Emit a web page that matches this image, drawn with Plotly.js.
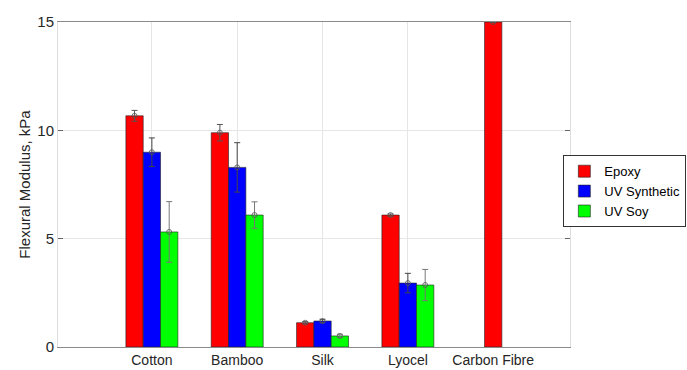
<!DOCTYPE html>
<html>
<head>
<meta charset="utf-8">
<script src="https://cdn.plot.ly/plotly-3.0.1.min.js"></script>
<style>html,body{margin:0;padding:0;background:#fff;}#chart{width:687px;height:370px;}</style>
</head>
<body>
<div id="chart"></div>
<script>
const categories = ["Cotton", "Bamboo", "Silk", "Lyocel", "Carbon Fibre"];
const seriesNames = ["Epoxy", "UV Synthetic", "UV Soy"];
const epoxy = [10.67, 9.89, 1.12, 6.09, 15.0];
const epoxyErr = [0.25, 0.38, 0.05, 0.05, 0.03];
const uvSynthetic = [8.99, 8.29, 1.2, 2.95, null];
const uvSyntheticErr = [0.66, 1.14, 0.08, 0.45, null];
const uvSoy = [5.31, 6.09, 0.51, 2.86, null];
const uvSoyErr = [1.4, 0.61, 0.08, 0.72, null];

const colors = ["#ff0000", "#0000ff", "#00ff00"];
const errColors = ["#555555", "#444444", "#777777"];
const W = 0.203;
const idx = categories.map((c, i) => i);
const series = [epoxy, uvSynthetic, uvSoy];
const errs = [epoxyErr, uvSyntheticErr, uvSoyErr];
function countAt(i) { return series.filter(s => s[i] !== null && s[i] !== undefined).length; }
function offsetFor(k, i) {
  const n = countAt(i);
  return -n * W / 2 + k * W;
}

const traces = [];
series.forEach((vals, k) => {
  const offs = idx.map(i => offsetFor(k, i));
  traces.push({
    type: "bar",
    name: seriesNames[k],
    x: idx,
    y: vals,
    width: W,
    offset: offs,
    marker: {color: colors[k], line: {color: "#222222", width: 0.6}},
    error_y: {type: "data", array: errs[k], visible: true, color: errColors[k], thickness: 1, width: 3},
    showlegend: true
  });
  traces.push({
    type: "scatter",
    mode: "markers",
    x: idx.map(i => i + offs[i] + W / 2),
    y: vals,
    marker: {symbol: "circle-open", size: 5, color: "#555555", line: {width: 0.8}},
    showlegend: false,
    hoverinfo: "skip"
  });
});

const layout = {
  width: 687, height: 370,
  margin: {l: 58, r: 117, t: 22, b: 23, autoexpand: false},
  paper_bgcolor: "#ffffff",
  plot_bgcolor: "#ffffff",
  font: {family: "Liberation Sans, Arial, sans-serif", size: 14, color: "#262626"},
  barmode: "overlay",
  showlegend: true,
  legend: {
    x: 0.987, y: 0.59, xanchor: "left", yanchor: "top",
    bordercolor: "#333333", borderwidth: 1, bgcolor: "#ffffff",
    font: {size: 13, color: "#000000"},
    tracegroupgap: 0, itemwidth: 30
  },
  xaxis: {
    type: "linear",
    range: [-1.1, 4.9],
    tickvals: idx, ticktext: categories,
    showgrid: true, gridcolor: "#e6e6e6", gridwidth: 1,
    zeroline: false,
    showline: true, linecolor: "#8a8a8a", linewidth: 1, mirror: true,
    ticks: "", tickfont: {size: 14, color: "#262626"}
  },
  yaxis: {
    range: [0, 15],
    tickvals: [0, 5, 10, 15],
    showgrid: true, gridcolor: "#e6e6e6", gridwidth: 1,
    zeroline: false,
    showline: true, linecolor: "#dddddd", linewidth: 1, mirror: "ticks",
    ticks: "inside", ticklen: 5, tickcolor: "#666666",
    tickfont: {size: 15, color: "#262626"},
    title: {text: "Flexural Modulus, kPa", font: {size: 15, color: "#262626"}, standoff: 3}
  }
};

Plotly.newPlot("chart", traces, layout, {displayModeBar: false, staticPlot: true});
</script>
</body>
</html>
